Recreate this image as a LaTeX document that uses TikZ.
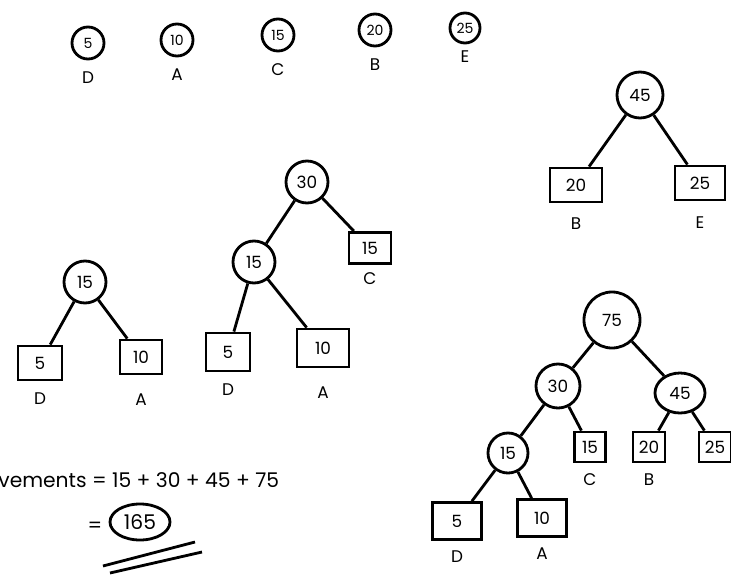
\documentclass[tikz,border=0pt]{standalone}
\usepackage{fontspec}
\setmainfont{Poppins}
\usetikzlibrary{positioning, shapes.geometric}

\begin{document}
\begin{tikzpicture}[x=0.025cm, y=-0.025cm, line width=2pt,
  sumnode/.style={circle, draw, inner sep=0pt, minimum size=1.05cm, font=\large},
  leaf/.style={rectangle, draw, inner sep=0pt, minimum width=1.1cm, minimum height=0.85cm, font=\large},
  tag/.style={font=\large, inner sep=1pt}]
  \useasboundingbox (0,0) rectangle (731,574);
  \clip (0,0) rectangle (731,574);

  % the five files
  \node[sumnode, minimum size=0.8cm, font=\normalsize] (w5) at (88,43) {5};
  \node[sumnode, minimum size=0.8cm, font=\normalsize] (w10) at (177,40) {10};
  \node[sumnode, minimum size=0.8cm, font=\normalsize] (w15) at (278,35) {15};
  \node[sumnode, minimum size=0.8cm, font=\normalsize] (w20) at (375,30) {20};
  \node[sumnode, minimum size=0.75cm, font=\normalsize] (w25) at (465,28) {25};
  \node[tag, below=0.22cm of w5] {D};
  \node[tag, below=0.22cm of w10] {A};
  \node[tag, below=0.22cm of w15] {C};
  \node[tag, below=0.22cm of w20] {B};
  \node[tag, below=0.08cm of w25] {E};

  % merge B and E
  \node[sumnode, minimum size=1.15cm] (m45) at (640,95) {45};
  \node[leaf, minimum width=1.3cm] (b20) at (576,185) {20};
  \node[leaf, minimum width=1.25cm] (e25) at (700,183) {25};
  \node[tag, below=0.3cm of b20] {B};
  \node[tag, below=0.3cm of e25] {E};
  \draw (m45) -- (b20);
  \draw (m45) -- (e25);

  % merge D and A
  \node[sumnode] (m15) at (85,282) {15};
  \node[leaf] (d5) at (40,363) {5};
  \node[leaf, minimum width=1.05cm] (a10) at (141,357) {10};
  \node[tag, below=0.22cm of d5] {D};
  \node[tag, below=0.38cm of a10] {A};
  \draw (m15) -- (d5);
  \draw (m15) -- (a10);

  % merge with C
  \node[sumnode] (n30) at (307,182) {30};
  \node[sumnode] (n15) at (254,262) {15};
  \node[leaf, minimum width=1.05cm, minimum height=0.78cm] (c15) at (370,248) {15};
  \node[leaf, minimum height=0.95cm] (n5) at (228,352) {5};
  \node[leaf, minimum width=1.3cm, minimum height=0.95cm] (n10) at (323,348) {10};
  \node[tag, below=0.12cm of c15] {C};
  \node[tag, below=0.22cm of n5] {D};
  \node[tag, below=0.38cm of n10] {A};
  \draw (n30) -- (n15);
  \draw (n30) -- (c15);
  \draw (n15) -- (n5);
  \draw (n15) -- (n10);

  % final tree
  \node[sumnode, minimum size=1.4cm] (t75) at (612,320) {75};
  \node[sumnode, minimum size=1.1cm] (t30) at (558,386) {30};
  \node[ellipse, draw, inner sep=0pt, minimum width=1.25cm, minimum height=1cm, font=\large] (t45) at (680,393) {45};
  \node[sumnode, minimum size=1cm] (t15) at (508,453) {15};
  \node[leaf, minimum width=0.78cm, minimum height=0.75cm] (tc) at (590,447) {15};
  \node[leaf, minimum width=0.8cm, minimum height=0.75cm] (tb) at (649,447) {20};
  \node[leaf, minimum width=0.8cm, minimum height=0.75cm] (te) at (715,447) {25};
  \node[leaf, minimum width=1.22cm, minimum height=0.92cm] (td) at (457,521) {5};
  \node[leaf, minimum width=1.22cm, minimum height=0.92cm] (ta) at (542,518) {10};
  \node[tag, below=0.18cm of tc] {C};
  \node[tag, below=0.18cm of tb] {B};
  \node[tag, below=0.18cm of td] {D};
  \node[tag, below=0.18cm of ta] {A};
  \draw (t75) -- (t30);
  \draw (t75) -- (t45);
  \draw (t30) -- (t15);
  \draw (t30) -- (tc);
  \draw (t45) -- (tb);
  \draw (t45) -- (te);
  \draw (t15) -- (td);
  \draw (t15) -- (ta);

  % total
  \node[anchor=west, font=\Large, inner sep=0pt] (sum) at (-3,480) {vements = 15 + 30 + 45 + 75};
  \node[font=\Large] (eq) at (95,527) {=};
  \node[ellipse, draw, font=\Large, minimum width=1.5cm, minimum height=0.9cm, inner sep=0pt] (total) at (140,522) {165};
  \coordinate (u1a) at (103,566);
  \coordinate (u1b) at (195,542);
  \coordinate (u2a) at (110,573);
  \coordinate (u2b) at (202,552);
  \draw (u1a) -- (u1b);
  \draw (u2a) -- (u2b);
\end{tikzpicture}
\end{document}
